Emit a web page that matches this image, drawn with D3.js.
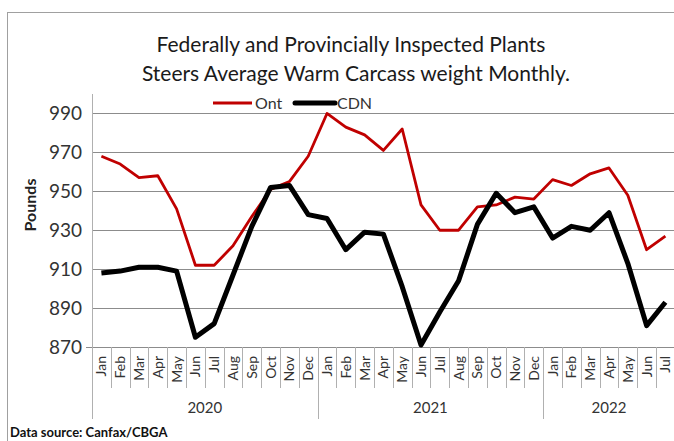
<html>
  <head>
    <script src="https://cdnjs.cloudflare.com/ajax/libs/d3/7.8.5/d3.min.js"></script>
    <style>
    body { margin: 0; background: white; }
    svg { font-family: Lato, "Open Sans", sans-serif; }
    .grid line { stroke: #8c8c8c; stroke-width: 1; }
    .sep { stroke: #b0b0b0; stroke-width: 1; }
    </style>
  </head>
  <body>
    <svg width="674" height="441" id="chart"></svg>

    <script>
    var months = ['Jan','Feb','Mar','Apr','May','Jun','Jul','Aug','Sep','Oct','Nov','Dec',
                  'Jan','Feb','Mar','Apr','May','Jun','Jul','Aug','Sep','Oct','Nov','Dec',
                  'Jan','Feb','Mar','Apr','May','Jun','Jul'];
    var years = ['2020', '2021', '2022'];
    var yearStart = [0, 12, 24];
    var yearEnd = [12, 24, 31];
    var ont = [968,964,957,958,941,912,912,922,937,951,955,968,
               990,983,979,971,982,943,930,930,942,943,947,946,
               956,953,959,962,948,920,927];
    var cdn = [908,909,911,911,909,875,882,907,932,952,953,938,
               936,920,929,928,901,871,888,904,933,949,939,942,
               926,932,930,939,913,881,893];
    var yTicks = [870, 890, 910, 930, 950, 970, 990];

    var svg = d3.select('#chart');

    // outer frame
    svg.append('rect')
      .attr('x', 7.5).attr('y', 12.5)
      .attr('width', 700).attr('height', 500)
      .attr('fill', 'none')
      .attr('stroke', '#a0a0a0');

    var x = d3.scaleBand()
      .domain(d3.range(months.length))
      .range([92, 92 + 31 * 18.8])
      .padding(0);
    var y = d3.scaleLinear().domain([870, 1000]).range([347, 94]);

    // title
    var title = svg.append('text')
      .attr('text-anchor', 'middle')
      .attr('fill', '#1a1a1a')
      .style('font-size', '21px');
    title.append('tspan').attr('x', 351).attr('y', 52)
      .text('Federally and Provincially Inspected Plants');
    title.append('tspan').attr('x', 356).attr('y', 81)
      .text('Steers Average Warm Carcass weight Monthly.');

    // gridlines
    var grid = svg.append('g').attr('class', 'grid');
    grid.selectAll('line')
      .data(yTicks)
      .enter()
      .append('line')
      .attr('x1', function(d) { return d === 870 ? 86 : 92; })
      .attr('x2', x.range()[1])
      .attr('y1', function(d) { return Math.round(y(d)) + 0.5; })
      .attr('y2', function(d) { return Math.round(y(d)) + 0.5; });

    svg.append('g')
      .selectAll('text')
      .data(yTicks)
      .enter()
      .append('text')
      .attr('x', 82)
      .attr('y', function(d) { return y(d); })
      .attr('dy', '0.36em')
      .attr('text-anchor', 'end')
      .attr('fill', '#333')
      .style('font-size', '19px')
      .text(function(d) { return d; });

    // y axis line
    svg.append('line')
      .attr('class', 'sep')
      .attr('x1', 92.5).attr('x2', 92.5)
      .attr('y1', 94).attr('y2', 419);

    svg.append('text')
      .attr('transform', 'translate(36,205) rotate(-90)')
      .attr('text-anchor', 'middle')
      .attr('fill', '#222')
      .style('font-size', '16px')
      .style('font-weight', 'bold')
      .text('Pounds');

    // month separators and labels
    svg.append('g')
      .selectAll('line')
      .data(d3.range(1, months.length + 1))
      .enter()
      .append('line')
      .attr('class', 'sep')
      .attr('x1', function(i) { return Math.round(x(0) + i * x.bandwidth()) + 0.5; })
      .attr('x2', function(i) { return Math.round(x(0) + i * x.bandwidth()) + 0.5; })
      .attr('y1', 347)
      .attr('y2', function(i) { return yearEnd.indexOf(i) >= 0 ? 419 : 388; });

    svg.append('g')
      .selectAll('text')
      .data(months)
      .enter()
      .append('text')
      .attr('transform', function(d, i) {
        return 'translate(' + (x(i) + x.bandwidth() / 2) + ',356) rotate(-90)';
      })
      .attr('text-anchor', 'end')
      .attr('dy', '0.36em')
      .attr('fill', '#333')
      .style('font-size', '14px')
      .text(function(d) { return d; });

    svg.append('g')
      .selectAll('text')
      .data(years)
      .enter()
      .append('text')
      .attr('x', function(d, i) {
        return (x(yearStart[i]) + x(yearEnd[i] - 1) + x.bandwidth()) / 2;
      })
      .attr('y', 413)
      .attr('text-anchor', 'middle')
      .attr('fill', '#333')
      .style('font-size', '15px')
      .text(function(d) { return d; });

    // lines
    var line = d3.line()
      .x(function(d, i) { return x(i) + x.bandwidth() / 2; })
      .y(function(d) { return y(d); });

    svg.append('path')
      .datum(ont)
      .attr('d', line)
      .attr('fill', 'none')
      .attr('stroke', '#c00000')
      .attr('stroke-width', 2.8)
      .attr('stroke-linejoin', 'round');

    svg.append('path')
      .datum(cdn)
      .attr('d', line)
      .attr('fill', 'none')
      .attr('stroke', '#000')
      .attr('stroke-width', 5)
      .attr('stroke-linejoin', 'round');

    // legend
    var legend = svg.append('g');
    legend.append('line')
      .attr('x1', 213).attr('x2', 252).attr('y1', 103).attr('y2', 103)
      .attr('stroke', '#c00000').attr('stroke-width', 2.8);
    legend.append('text')
      .attr('x', 255).attr('y', 103).attr('dy', '0.36em')
      .attr('fill', '#333').style('font-size', '16px')
      .text('Ont');
    legend.append('line')
      .attr('x1', 295).attr('x2', 335).attr('y1', 103).attr('y2', 103)
      .attr('stroke', '#000').attr('stroke-width', 5).attr('stroke-linecap', 'round');
    legend.append('text')
      .attr('x', 337).attr('y', 103).attr('dy', '0.36em')
      .attr('fill', '#333').style('font-size', '16px')
      .text('CDN');

    svg.append('text')
      .attr('x', 10).attr('y', 437)
      .attr('fill', '#111')
      .style('font-size', '13px')
      .style('font-weight', 'bold')
      .text('Data source: Canfax/CBGA');
    </script>
  </body>
</html>
